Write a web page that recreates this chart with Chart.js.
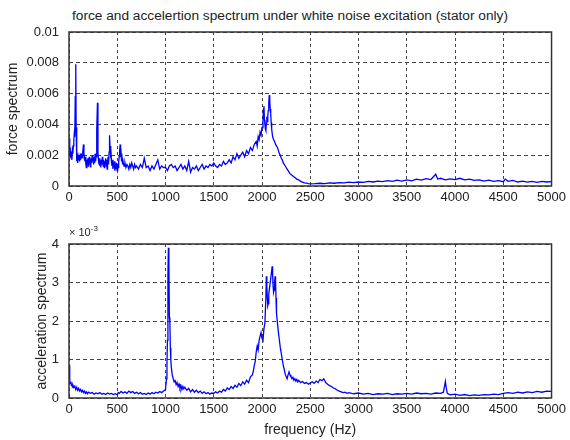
<!DOCTYPE html>
<html><head><meta charset="utf-8">
<script src="https://cdn.jsdelivr.net/npm/chart.js@4.4.1/dist/chart.umd.min.js"></script>
<style>
html,body{margin:0;padding:0;background:#fff;}
body{width:570px;height:440px;position:relative;overflow:hidden;font-family:"Liberation Sans",Arial,sans-serif;color:#222;}
#c1{position:absolute;left:0;top:0;}
#c2{position:absolute;left:0;top:220px;}
#title{position:absolute;left:72px;top:8px;font-size:13.7px;white-space:nowrap;}
#exp{position:absolute;left:69px;top:224px;font-size:11px;white-space:nowrap;}
#exp sup{font-size:8px;}
</style></head><body>
<div id="title">force and accelertion spectrum under white noise excitation (stator only)</div>
<canvas id="c1" width="570" height="220"></canvas>
<canvas id="c2" width="570" height="220"></canvas>
<div id="exp">× 10<sup>-3</sup></div>
<script>
// frequency ticks (Hz)
const xTicks = [0,500,1000,1500,2000,2500,3000,3500,4000,4500,5000];
// force spectrum y ticks (values in units of 1e-3) and labels
const forceTicks = [0,2,4,6,8,10];
const forceTickLabels = ['0','0.002','0.004','0.006','0.008','0.01'];
// acceleration spectrum y ticks (units of 1e-3)
const accelTicks = [0,1,2,3,4];
const accelTickLabels = ['0','1','2','3','4'];

// force spectrum: frequency (Hz) and value (x1e-3)
const forceFreq = [0,5,10,15,20,25,30,35,40,45,50,55,60,65,70,74,78,82,86,90,95,100,105,110,115,120,125,130,135,140,145,150,155,160,165,170,175,180,185,190,195,200,205,210,215,220,225,230,235,240,245,250,255,260,265,270,275,280,285,290,295,300,305,310,315,320,325,330,335,340,345,350,355,360,365,370,375,380,385,390,395,400,405,410,415,420,425,430,435,440,445,450,455,460,465,470,475,480,485,490,495,500,505,510,515,520,525,530,535,540,545,550,555,560,570,580,590,600,610,620,630,640,650,660,670,680,690,700,
720,740,760,780,800,820,840,860,880,900,920,940,960,980,1000,1020,1040,1060,1080,1100,1120,1140,1160,1180,1200,1220,1240,1260,1280,1300,1320,1340,1360,1380,1400,1420,1440,1460,1480,1500,1520,1540,1560,1580,1600,1620,1640,1660,1680,1700,1720,1740,1760,1780,1800,1820,1840,1860,1880,1900,1920,1940,1950,1960,1970,1980,1990,2000,2010,2015,2020,2025,2030,2035,2040,2045,2050,2055,2060,2065,2070,2075,2080,2085,2090,2095,2100,2110,2120,2130,2140,2150,2160,2170,2180,2190,2200,2210,2220,2230,2240,2250,2260,2270,2280,2290,2300,2320,2340,2360,2380,2400,2420,2440,2460,2480,2500,
2550,2600,2650,2700,2750,2800,2850,2900,2950,3000,3050,3100,3150,3200,3250,3300,3350,3400,3450,3500,3550,3600,3650,3700,3750,3800,3820,3850,3900,3950,4000,4050,4100,4150,4200,4250,4300,4350,4400,4450,4500,4520,4550,4600,4650,4700,4750,4800,4850,4900,4950,5000];
const forceVal = [3.1,2.4,1.9,2.2,1.8,2.0,1.7,2.3,2.1,2.6,3.0,3.4,3.2,5.8,7.9,3.8,2.2,1.6,2.1,1.5,1.9,1.7,2.0,1.6,1.9,1.7,2.1,1.8,2.0,1.9,2.2,2.7,2.1,1.9,1.6,1.9,1.4,1.2,1.7,1.5,1.8,1.3,1.6,1.9,1.4,1.7,1.2,1.8,1.5,2.0,1.6,1.9,1.4,1.8,1.5,2.1,1.6,1.9,2.3,3.6,5.4,2.2,1.7,1.4,1.8,1.3,1.6,1.2,1.7,1.4,1.9,1.5,1.3,1.7,1.2,1.6,1.4,1.8,1.3,1.7,1.1,1.5,1.9,1.4,2.2,3.3,2.6,1.8,2.5,1.6,1.3,1.7,1.1,1.5,1.2,1.6,1.0,1.4,1.1,1.5,1.2,1.0,1.4,1.2,1.6,1.9,2.3,2.7,1.9,2.1,1.6,1.8,1.4,1.6,1.3,1.5,1.2,1.4,1.3,1.1,1.4,1.2,1.5,1.3,1.1,1.4,1.2,1.3,
1.1,1.4,1.2,1.8,1.2,1.3,1.0,1.3,1.1,1.4,1.7,1.1,1.3,1.2,1.2,1.0,1.3,1.4,1.2,1.3,1.0,1.2,1.4,1.1,1.3,1.0,1.6,0.9,1.2,1.1,1.3,1.0,1.2,1.4,1.1,1.3,1.2,1.4,1.3,1.5,1.3,1.2,1.4,1.3,1.6,1.4,1.5,1.7,1.5,1.9,1.7,2.1,1.8,2.0,2.2,1.9,2.3,2.1,2.5,2.3,2.7,2.9,2.6,3.2,3.0,3.5,3.3,3.8,4.2,5.0,5.2,4.3,4.0,3.7,3.6,4.1,4.5,4.2,4.6,4.9,5.4,5.9,5.6,5.0,4.7,4.1,3.7,3.2,3.0,2.9,2.7,2.6,2.5,2.3,2.1,2.0,1.8,1.7,1.5,1.4,1.3,1.2,1.1,1.0,0.9,0.8,0.75,0.65,0.55,0.45,0.4,0.3,0.25,0.2,0.18,0.15,0.14,
0.15,0.18,0.16,0.2,0.18,0.22,0.2,0.25,0.22,0.26,0.24,0.3,0.26,0.32,0.28,0.35,0.3,0.38,0.32,0.4,0.34,0.45,0.38,0.48,0.42,0.76,0.45,0.5,0.4,0.46,0.42,0.5,0.4,0.44,0.36,0.4,0.32,0.38,0.3,0.35,0.28,0.45,0.3,0.36,0.26,0.32,0.25,0.3,0.24,0.3,0.26,0.28];

// acceleration spectrum: frequency (Hz) and value (x1e-3)
const accelFreq = [0,5,10,15,20,25,30,35,40,50,60,70,80,90,100,110,120,130,140,150,160,170,180,190,200,220,240,260,280,300,320,340,360,380,400,420,440,460,480,500,510,520,540,560,580,600,620,640,660,680,700,720,740,760,780,800,820,840,860,880,900,920,940,960,980,990,1000,1010,1015,1020,1025,1030,1035,1040,1045,1050,1055,1060,1070,1080,1090,1100,1110,1120,1130,1140,1150,1160,1170,1180,1190,1200,1220,1240,1260,1280,1300,1320,1340,1360,1380,1400,1420,1440,1460,1480,1500,1520,1540,1560,1580,1600,1620,1640,1660,1680,1700,1720,1740,1760,1780,1800,1820,1840,1860,1880,1900,1910,1920,1930,1940,1950,1960,1970,1980,1990,2000,2010,2020,2030,2040,2045,2050,2055,2060,2065,2070,2080,2090,2100,2105,2110,2115,2120,2125,2130,2135,2140,2145,2150,2160,2170,2180,2190,2200,2210,2220,2230,2240,2250,2260,2270,2280,2290,2300,2310,2320,2330,2340,2350,2360,2370,2380,2400,2420,2440,2460,2480,2500,2520,2540,2560,2580,2600,2620,2640,2660,2680,2700,2720,2740,2760,2780,2800,2820,2840,2860,2880,2900,2950,3000,3050,3100,3150,3200,3250,3300,3350,3400,3450,3500,3550,3600,3650,3700,3750,3800,3850,3880,3900,3910,3920,3950,4000,4050,4100,4150,4200,4250,4300,4350,4400,4450,4500,4550,4600,4650,4700,4750,4800,4850,4900,4950,5000];
const accelVal = [0.85,0.6,0.45,0.38,0.42,0.33,0.36,0.28,0.34,0.27,0.31,0.22,0.28,0.2,0.25,0.18,0.22,0.16,0.2,0.14,0.18,0.12,0.16,0.11,0.15,0.12,0.14,0.1,0.13,0.11,0.14,0.1,0.12,0.09,0.13,0.1,0.12,0.09,0.11,0.08,0.14,0.12,0.17,0.13,0.16,0.12,0.18,0.14,0.17,0.12,0.15,0.11,0.14,0.1,0.12,0.09,0.13,0.1,0.14,0.11,0.15,0.13,0.17,0.14,0.18,0.2,0.22,0.5,0.9,1.5,3.2,3.9,3.5,2.1,2.0,1.3,1.0,0.8,0.6,0.5,0.42,0.45,0.35,0.4,0.3,0.36,0.25,0.32,0.22,0.3,0.24,0.28,0.2,0.25,0.16,0.22,0.15,0.2,0.14,0.18,0.12,0.16,0.11,0.14,0.1,0.13,0.12,0.16,0.13,0.18,0.15,0.22,0.18,0.26,0.22,0.3,0.25,0.33,0.28,0.38,0.32,0.42,0.36,0.46,0.4,0.55,0.6,0.7,0.85,0.95,1.2,1.35,1.25,1.5,1.6,1.7,1.55,1.5,1.8,1.95,2.6,3.16,2.9,2.6,2.4,2.45,2.7,2.9,3.1,3.3,3.42,3.2,2.9,2.75,2.8,3.0,3.16,3.05,2.6,2.2,1.95,1.7,1.5,1.3,1.15,1.0,0.85,0.75,0.62,0.56,0.5,0.6,0.68,0.6,0.55,0.5,0.54,0.46,0.5,0.44,0.48,0.42,0.46,0.4,0.43,0.38,0.4,0.36,0.39,0.42,0.38,0.44,0.4,0.48,0.45,0.5,0.4,0.36,0.32,0.3,0.26,0.24,0.2,0.18,0.16,0.14,0.15,0.12,0.14,0.11,0.13,0.1,0.12,0.09,0.11,0.1,0.12,0.09,0.11,0.1,0.12,0.1,0.13,0.11,0.12,0.1,0.13,0.12,0.15,0.43,0.25,0.12,0.08,0.1,0.07,0.09,0.06,0.08,0.07,0.09,0.08,0.1,0.09,0.12,0.14,0.12,0.15,0.13,0.16,0.14,0.17,0.15,0.18,0.17];

Chart.defaults.font.family = '"Liberation Sans", Arial, sans-serif';
Chart.defaults.font.size = 13;
Chart.defaults.color = '#222';

const boxPlugin = {
  id: 'box',
  afterDraw(chart) {
    const a = chart.chartArea, ctx = chart.ctx;
    ctx.save();
    ctx.strokeStyle = '#333';
    ctx.lineWidth = 1.5;
    ctx.strokeRect(a.left, a.top, a.right - a.left, a.bottom - a.top);
    ctx.restore();
  }
};

function makeChart(id, freq, vals, yTicks, yLabels, yMax, yTitle, yTitlePad, padTop, xH, xTitle) {
  return new Chart(document.getElementById(id), {
    type: 'line',
    data: { datasets: [{ data: freq.map((f, i) => ({x: f, y: vals[i]})), borderColor: '#0000ff', borderWidth: 1.3, pointRadius: 0, tension: 0, fill: false }] },
    options: {
      responsive: false, animation: false, devicePixelRatio: 1,
      layout: { padding: { left: 0, right: 14, top: padTop, bottom: 0 } },
      plugins: { legend: { display: false }, tooltip: { enabled: false } },
      scales: {
        x: {
          type: 'linear', min: 0, max: 5000,
          afterBuildTicks: s => { s.ticks = xTicks.map(v => ({value: v})); },
          afterFit: s => { s.height = xH; },
          ticks: { autoSkip: false, maxRotation: 0, padding: 4, callback: v => String(v) },
          grid: { color: '#444', lineWidth: 1, drawTicks: false },
          border: { display: false, dash: [3, 3] },
          title: xTitle ? { display: true, text: xTitle, font: { size: 14 }, padding: { top: 0, bottom: 1 } } : { display: false }
        },
        y: {
          min: 0, max: yMax,
          afterBuildTicks: s => { s.ticks = yTicks.map(v => ({value: v})); },
          afterFit: s => { s.width = 69; },
          ticks: { padding: 10, callback: (v, i) => yLabels[i] },
          grid: { color: '#444', lineWidth: 1, drawTicks: false },
          border: { display: false, dash: [4, 3] },
          title: { display: true, text: yTitle, font: { size: 14 }, padding: { top: yTitlePad, bottom: 0 } }
        }
      }
    },
    plugins: [boxPlugin]
  });
}

makeChart('c1', forceFreq, forceVal, forceTicks, forceTickLabels, 10, 'force spectrum', 5, 32, 34, null);
makeChart('c2', accelFreq, accelVal, accelTicks, accelTickLabels, 4, 'acceleration spectrum', 34, 24, 42, 'frequency (Hz)');
</script>
</body></html>
